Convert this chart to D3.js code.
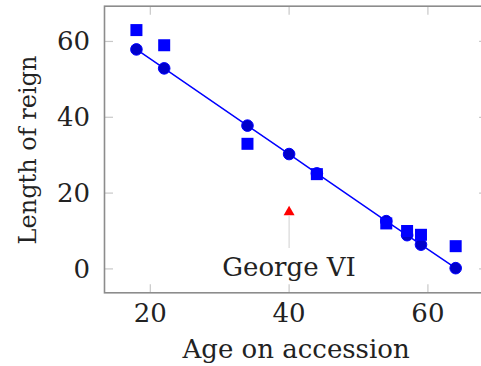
<!DOCTYPE html>
<html>
<head>
<meta charset="utf-8">
<script src="https://cdn.jsdelivr.net/npm/d3@7"></script>
<style>
  html, body { margin: 0; padding: 0; background: #fff; }
</style>
</head>
<body>
<svg id="chart" width="481" height="366"></svg>
<script>
// data
const fitAge = [18, 22, 34, 40, 44, 54, 57, 59, 64];
const fitReign = [57.9, 52.9, 37.8, 30.3, 25.2, 12.6, 8.9, 6.4, 0.2];
const actualAge = [18, 22, 34, 44, 54, 57, 59, 64];
const actualReign = [63, 59, 33, 25, 12, 10, 9, 6];
const outlierAge = [40];
const outlierReign = [15];
const outlierLabel = ["George VI"];
const xTicks = [20, 40, 60];
const yTicks = [0, 20, 40, 60];

const svg = d3.select("#chart");
const serif = "'DejaVu Serif', 'Liberation Serif', serif";

const x = d3.scaleLinear().domain([13.4, 68.6]).range([104.5, 487.6]);
const y = d3.scaleLinear().domain([-6.3, 69.3]).range([292.8, 6.2]);

const plotLeft = x.range()[0], plotRight = x.range()[1];
const plotTop = y.range()[1], plotBottom = y.range()[0];
const tickLen = 8.5;
const fontSize = 26;

function label(sel) {
  return sel.attr("font-family", serif)
    .attr("font-size", fontSize)
    .attr("fill", "#222");
}

// ticks (inside, on all four sides)
xTicks.forEach(t => {
  svg.append("line")
    .attr("x1", x(t)).attr("x2", x(t))
    .attr("y1", plotBottom).attr("y2", plotBottom - tickLen)
    .attr("stroke", "#c8c8c8").attr("stroke-width", 1.2);
  svg.append("line")
    .attr("x1", x(t)).attr("x2", x(t))
    .attr("y1", plotTop).attr("y2", plotTop + tickLen)
    .attr("stroke", "#c8c8c8").attr("stroke-width", 1.2);
  label(svg.append("text"))
    .attr("x", x(t))
    .attr("y", 322)
    .attr("text-anchor", "middle")
    .text(t);
});

yTicks.forEach(t => {
  svg.append("line")
    .attr("x1", plotLeft).attr("x2", plotLeft + tickLen)
    .attr("y1", y(t)).attr("y2", y(t))
    .attr("stroke", "#c8c8c8").attr("stroke-width", 1.2);
  svg.append("line")
    .attr("x1", plotRight).attr("x2", plotRight - tickLen)
    .attr("y1", y(t)).attr("y2", y(t))
    .attr("stroke", "#c8c8c8").attr("stroke-width", 1.2);
  label(svg.append("text"))
    .attr("x", 90)
    .attr("y", y(t) + 9)
    .attr("text-anchor", "end")
    .text(t);
});

// axis labels
label(svg.append("text"))
  .attr("x", x(40) + 7)
  .attr("y", 358)
  .attr("text-anchor", "middle")
  .text("Age on accession");

label(svg.append("text"))
  .attr("transform", "translate(36,150) rotate(-90)")
  .attr("text-anchor", "middle")
  .attr("font-size", 24)
  .text("Length of reign");

// fitted line
const line = d3.line()
  .x((d, i) => x(fitAge[i]))
  .y(d => y(d));

svg.append("path")
  .datum(fitReign)
  .attr("d", line)
  .attr("fill", "none")
  .attr("stroke", "#0000ff")
  .attr("stroke-width", 1.5);

// fitted points (circles)
svg.selectAll(".fit")
  .data(fitReign)
  .enter()
  .append("circle")
  .attr("class", "fit")
  .attr("cx", (d, i) => x(fitAge[i]))
  .attr("cy", d => y(d))
  .attr("r", 5.8)
  .attr("fill", "#0000cc")
  .attr("stroke", "#0000ff")
  .attr("stroke-width", 1);

// actual reigns (squares)
const sq = 12;
svg.selectAll(".actual")
  .data(actualReign)
  .enter()
  .append("rect")
  .attr("class", "actual")
  .attr("x", (d, i) => x(actualAge[i]) - sq / 2)
  .attr("y", d => y(d) - sq / 2)
  .attr("width", sq)
  .attr("height", sq)
  .attr("fill", "#0000ff");

// outlier with pin label
outlierReign.forEach((v, i) => {
  const cx = x(outlierAge[i]), cy = y(v);
  svg.append("line")
    .attr("x1", cx).attr("x2", cx)
    .attr("y1", cy + 4).attr("y2", cy + 36)
    .attr("stroke", "#d8d8d8").attr("stroke-width", 1.2);
  svg.append("path")
    .attr("d", d3.symbol().type(d3.symbolTriangle).size(52)())
    .attr("transform", `translate(${cx},${cy})`)
    .attr("fill", "#ff0000");
  label(svg.append("text"))
    .attr("x", cx)
    .attr("y", cy + 64)
    .attr("text-anchor", "middle")
    .text(outlierLabel[i]);
});

// frame
svg.append("rect")
  .attr("x", plotLeft)
  .attr("y", plotTop)
  .attr("width", plotRight - plotLeft)
  .attr("height", plotBottom - plotTop)
  .attr("fill", "none")
  .attr("stroke", "#8c8c8c")
  .attr("stroke-width", 1.6);
</script>
</body>
</html>
